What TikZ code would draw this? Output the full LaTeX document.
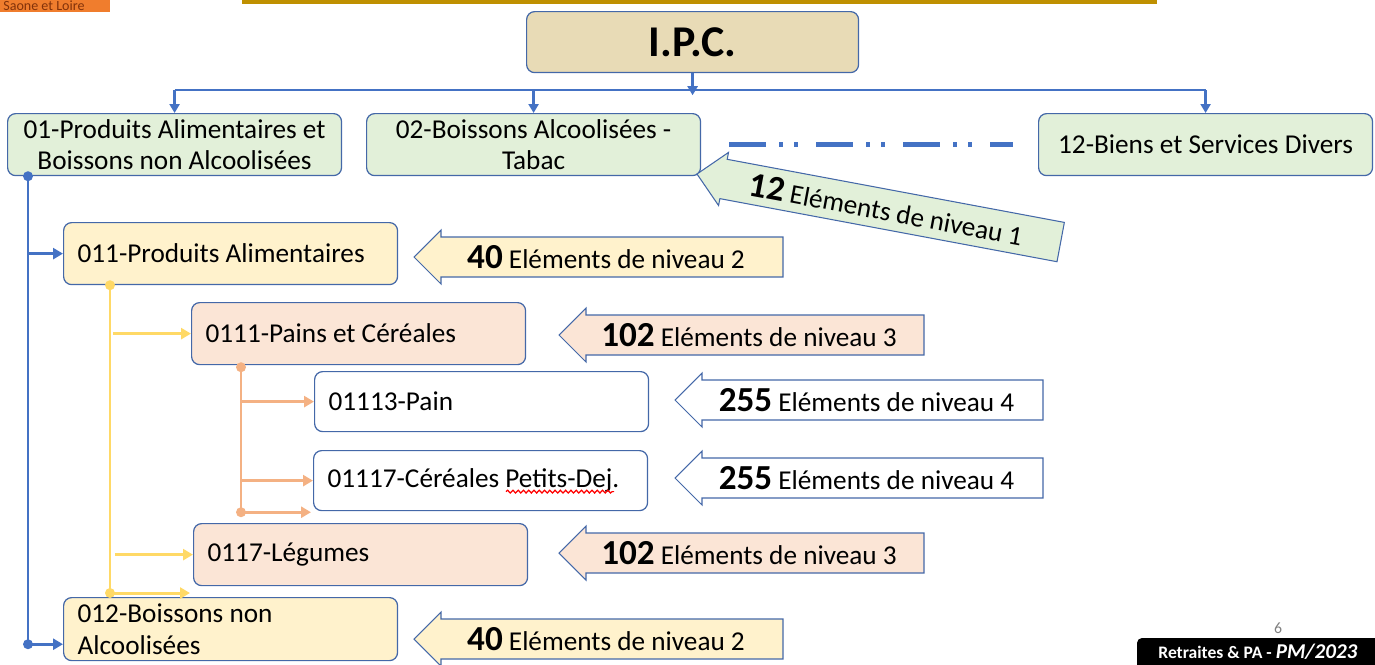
\documentclass[tikz,border=0pt]{standalone}
\usepackage{fontspec}
\setmainfont{Carlito}
\usetikzlibrary{arrows.meta,calc,decorations.pathmorphing}

\definecolor{boxline}{RGB}{68,104,168}
\definecolor{linkblue}{RGB}{68,114,196}
\definecolor{linkyellow}{RGB}{255,217,102}
\definecolor{linkorange}{RGB}{244,177,131}
\definecolor{lvgreen}{RGB}{226,240,217}
\definecolor{lvyellow}{RGB}{255,242,204}
\definecolor{lvpeach}{RGB}{251,229,214}
\definecolor{ipcfill}{RGB}{232,219,182}
\definecolor{goldbar}{RGB}{191,144,0}
\definecolor{tabfill}{RGB}{240,125,45}
\definecolor{tabtext}{RGB}{130,50,10}

\newcommand{\bodyfont}{\fontsize{15.5}{18}\selectfont}
\newcommand{\lvlnum}[1]{{\fontsize{20}{20}\selectfont\bfseries #1}}

\tikzset{
  box/.style={draw=boxline, line width=0.7pt, rounded corners=0.16cm,
    minimum width=6.68cm, minimum height=1.24cm, inner ysep=0pt, font=\bodyfont},
  leftbox/.style={box, anchor=north west, align=flush left, text width=6.12cm, inner xsep=0.28cm},
  midbox/.style={box, anchor=north west, align=flush center, text width=6.4cm, inner xsep=0.14cm, fill=lvgreen},
  lvlshape/.style={draw=boxline, line width=0.6pt, line join=miter},
  lvltext/.style={font=\bodyfont, inner sep=0pt},
  trunk/.style={line width=1.7pt},
  link/.style={trunk, -{Triangle[length=0.2cm,width=0.22cm]}},
  toplink/.style={linkblue, line width=1.3pt, -{Triangle[length=0.18cm,width=0.2cm]}},
  spellwave/.style={red, line width=0.7pt, decorate, decoration={snake, amplitude=0.8pt, segment length=3pt}},
}

% level arrow: name, tip x, y, tail x, fill, text
\newcommand{\lvlarrow}[6]{%
  \draw[lvlshape, fill=#5] (#2,#3) -- ++(27,-27) -- ++(0,7) -- (#4,#3-20)
    -- (#4,#3+20) -- (#2+27,#3+20) -- ++(0,7) -- cycle;
  \node[lvltext] (#1) at ({(#2+27+#4)/2-6},#3) {#6};
}

\begin{document}
\begin{tikzpicture}[x=0.02cm, y=-0.02cm]
    \useasboundingbox (0,0) rectangle (1375,664);

    % slide decorations
    \fill[goldbar] (242,-2) rectangle (1157,4);
    \fill[tabfill] (0,-2) rectangle (110,12);
    \node[anchor=base west, inner sep=0pt, text=tabtext, font=\fontsize{8}{8}\selectfont] (tab) at (3,10) {Saone et Loire};

    % level 0 and 1
    \node[box, anchor=north west, fill=ipcfill, minimum width=6.64cm, minimum height=1.22cm,
          font=\fontsize{25}{25}\selectfont\bfseries] (ipc) at (526,11) {I.P.C.};
    \node[midbox] (n01) at (7,113)    {01-Produits Alimentaires et\\Boissons non Alcoolisées};
    \node[midbox] (n02) at (366,113)  {02-Boissons Alcoolisées -\\Tabac};
    \node[midbox] (n12) at (1038,113) {12-Biens et Services Divers};

    % levels 2 to 4
    \node[leftbox, fill=lvyellow] (n011)   at (63,222)  {011-Produits Alimentaires};
    \node[leftbox, fill=lvpeach]  (n0111)  at (191,302) {0111-Pains et Céréales};
    \node[leftbox, fill=white, minimum height=1.2cm] (n01113) at (314,371) {01113-Pain};
    \node[leftbox, fill=white, minimum height=1.2cm] (n01117) at (313,450) {01117-Céréales Petits-Dej.};
    \node[leftbox, fill=lvpeach]  (n0117)  at (193,523) {0117-Légumes};
    \node[leftbox, fill=lvyellow, minimum height=1.26cm] (n012) at (63,597) {012-Boissons non\\Alcoolisées};

    % spell-check mark
    \draw[spellwave] ($(n01117.west)+(193,11)$) -- ++(108,0);

    % top connectors
    \coordinate (hbar) at (0,90);
    \draw[toplink] (ipc.south) -- ++(0,22);
    \draw[linkblue, line width=1.3pt] (n01.north |- hbar) -- (n12.north |- hbar);
    \foreach \n in {n01,n02,n12}
        \draw[toplink] (\n.north |- hbar) -- (\n.north);
    \draw[linkblue, line width=2.8pt, dash pattern=on 0.74cm off 0.26cm on 0.08cm off 0.22cm on 0.08cm off 0.36cm]
        ($(n02.east)+(28,0)$) -- ($(n12.west)+(-25,0)$);

    % blue trunk
    \coordinate (b0) at ($(n01.south west)+(21,0)$);
    \coordinate (b1) at ($(b0 |- n012.south)+(0,-17)$);
    \draw[trunk, linkblue] (b0) -- (b1);
    \draw[link, linkblue] (b0 |- n011.west) -- (n011.west);
    \draw[link, linkblue] (b1) -- (b1 -| n012.west);
    \fill[linkblue] (b0) circle (0.1cm) (b1) circle (0.1cm);

    % yellow trunk
    \coordinate (y0) at ($(n011.south west)+(47,0)$);
    \coordinate (y1) at ($(y0 |- n012.north)+(0,-4)$);
    \draw[trunk, linkyellow] (y0) -- (y1);
    \draw[link, linkyellow] ($(y0 |- n0111.west)+(3,0)$) -- (n0111.west);
    \draw[link, linkyellow] ($(y0 |- n0117.west)+(5,0)$) -- (n0117.west);
    \draw[link, linkyellow] (y1) -- ($(y1 -| n0117.west)+(-3,0)$);
    \fill[linkyellow] (y0) circle (0.1cm) (y1) circle (0.1cm);

    % orange trunk
    \coordinate (o0) at ($(n0111.south west)+(50,2)$);
    \coordinate (o1) at ($(o0 |- n01117.south)+(0,1)$);
    \draw[trunk, linkorange] (o0) -- (o1);
    \draw[link, linkorange] (o0 |- n01113.west) -- (n01113.west);
    \draw[link, linkorange] (o0 |- n01117.west) -- (n01117.west);
    \draw[link, linkorange] (o1) -- ($(o1 -| n01117.west)+(-2,0)$);
    \fill[linkorange] (o0) circle (0.1cm) (o1) circle (0.1cm);

    % level counts
    \begin{scope}[shift={(697,174)}, rotate=-10.6, transform shape]
        \lvlarrow{c1}{0}{0}{370}{lvgreen}{\lvlnum{12} Eléments de niveau 1}
    \end{scope}
    \lvlarrow{c2a}{414}{257}{783}{lvyellow}{\lvlnum{40} Eléments de niveau 2}
    \lvlarrow{c3a}{559}{335}{924}{lvpeach}{\lvlnum{102} Eléments de niveau 3}
    \lvlarrow{c4a}{675}{400}{1043}{white}{\lvlnum{255} Eléments de niveau 4}
    \lvlarrow{c4b}{675}{478}{1043}{white}{\lvlnum{255} Eléments de niveau 4}
    \lvlarrow{c3b}{559}{553}{924}{lvpeach}{\lvlnum{102} Eléments de niveau 3}
    \lvlarrow{c2b}{414}{639}{783}{lvyellow}{\lvlnum{40} Eléments de niveau 2}

    % footer
    \node[text=gray, font=\fontsize{9}{9}\selectfont, inner sep=0pt] (page) at (1278,628) {6};
    \fill[black, rounded corners=0.1cm] (1137,638) rectangle (1390,680);
    \node[text=white, font=\fontsize{10}{10}\selectfont\bfseries, inner sep=0pt, anchor=west] (foot) at (1158,652)
        {Retraites \& PA - {\fontsize{12}{12}\selectfont\itshape PM/2023}};
\end{tikzpicture}
\end{document}
